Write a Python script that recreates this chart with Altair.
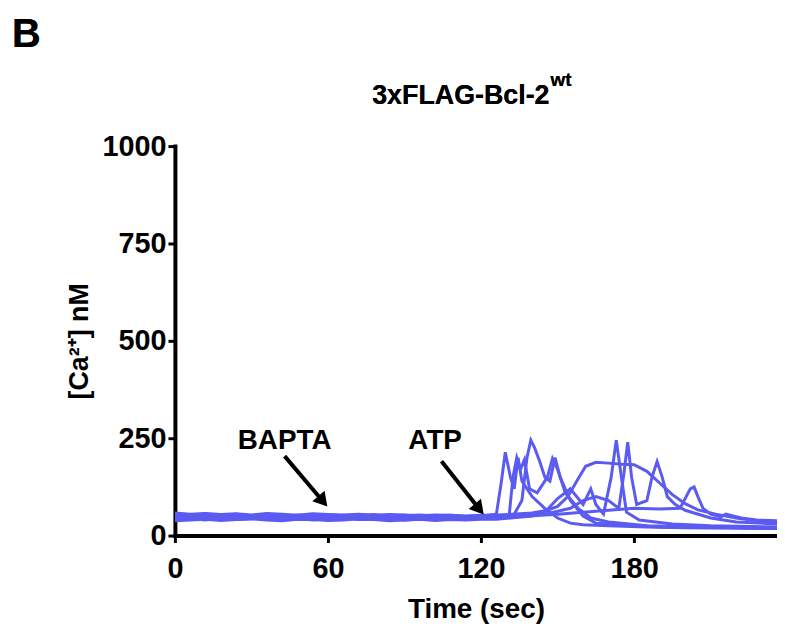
import altair as alt
import pandas as pd

# ---- data -------------------------------------------------------------
BASE_T = [0, 6, 12, 18, 24, 30, 36, 42, 48, 54, 60, 66, 72, 78, 84, 90, 96, 102, 108, 114, 120]

BASE_1 = [55, 52, 56, 50, 54, 51, 55, 53, 49, 52, 54, 50, 53, 51, 50, 52, 49, 51, 50, 48, 50]
BASE_2 = [48, 45, 50, 47, 44, 49, 46, 48, 45, 47, 50, 46, 44, 48, 47, 45, 46, 44, 47, 45, 46]
BASE_3 = [42, 44, 40, 45, 41, 43, 46, 42, 44, 40, 43, 45, 41, 42, 44, 40, 42, 45, 41, 43, 44]
BASE_4 = [50, 53, 49, 52, 55, 50, 52, 48, 53, 51, 49, 52, 50, 54, 49, 51, 53, 50, 52, 49, 51]
BASE_5 = [38, 40, 42, 39, 41, 43, 40, 38, 42, 41, 39, 40, 43, 41, 38, 40, 42, 39, 41, 40, 42]
BASE_6 = [58, 55, 57, 54, 56, 53, 57, 55, 52, 56, 54, 53, 55, 52, 54, 53, 51, 53, 52, 50, 52]
BASE_7 = [45, 47, 43, 46, 48, 44, 47, 45, 43, 46, 44, 47, 45, 43, 46, 44, 45, 43, 46, 44, 45]

RESP_T1 = [126, 128, 129.5, 131.5, 133, 134.5, 136, 140, 145, 150, 155, 160, 170, 185, 200, 236]
RESP_V1 = [55, 140, 214, 150, 120, 200, 140, 100, 70, 45, 32, 28, 25, 22, 20, 18]

RESP_T2 = [126, 133, 136, 138, 139.5, 141, 143, 145, 147, 149, 151, 155, 160, 165, 175, 190, 236]
RESP_V2 = [47, 55, 90, 200, 245, 225, 190, 150, 140, 200, 150, 90, 50, 32, 28, 22, 20]

RESP_T3 = [126, 131, 132.5, 134, 135.5, 137, 139, 142, 146, 148, 150, 153, 158, 163, 170, 185, 236]
RESP_V3 = [45, 50, 150, 200, 170, 195, 120, 110, 150, 198, 170, 110, 70, 45, 35, 25, 18]

RESP_T4 = [126, 140, 146, 150, 154, 158, 161, 165, 170, 175, 180, 185, 190, 195, 200, 205, 212, 220, 228, 236]
RESP_V4 = [52, 58, 65, 75, 100, 145, 178, 188, 186, 183, 182, 165, 135, 105, 82, 66, 55, 45, 38, 35]

RESP_T5 = [126, 140, 145, 150, 155, 160, 163, 165, 168, 171, 173, 175, 177, 182, 195, 210, 236]
RESP_V5 = [42, 50, 60, 95, 120, 80, 120, 80, 55, 150, 245, 150, 60, 40, 30, 25, 22]

RESP_T6 = [126, 145, 155, 160, 165, 170, 174, 176, 177.5, 179, 181, 185, 187, 189, 191, 193, 196, 200, 210, 220, 236]
RESP_V6 = [52, 55, 70, 90, 100, 90, 70, 160, 240, 150, 80, 90, 150, 190, 150, 100, 80, 65, 45, 35, 30]

RESP_T7 = [126, 150, 160, 170, 180, 190, 198, 200, 202, 203.5, 205, 207, 210, 214, 216, 218, 222, 228, 236]
RESP_V7 = [45, 55, 60, 65, 70, 68, 70, 95, 120, 125, 100, 70, 55, 48, 55, 52, 45, 40, 38]

X_TICKS = [0, 60, 120, 180]
Y_TICKS = [0, 250, 500, 750, 1000]

ARROW_LABELS = ["BAPTA", "ATP"]
ARROW_LABEL_T = [43, 102]
ARROW_LABEL_V = [242, 242]
ARROW_TAIL_T = [43, 104.5]
ARROW_TAIL_V = [204, 191]
ARROW_HEAD_T = [58, 119.3]
ARROW_HEAD_V = [88, 68]

# ---- build table ------------------------------------------------------
bases = [BASE_1, BASE_2, BASE_3, BASE_4, BASE_5, BASE_6, BASE_7]
resp_t = [RESP_T1, RESP_T2, RESP_T3, RESP_T4, RESP_T5, RESP_T6, RESP_T7]
resp_v = [RESP_V1, RESP_V2, RESP_V3, RESP_V4, RESP_V5, RESP_V6, RESP_V7]
rows = []
for i, (b, rt, rv) in enumerate(zip(bases, resp_t, resp_v)):
    for t, v in zip(BASE_T + rt, b + rv):
        rows.append({"cell": f"c{i+1}", "t": t, "v": v})
df = pd.DataFrame(rows)

arrows = pd.DataFrame({
    "label": ARROW_LABELS, "lt": ARROW_LABEL_T, "lv": ARROW_LABEL_V,
    "t1": ARROW_TAIL_T, "v1": ARROW_TAIL_V, "t2": ARROW_HEAD_T, "v2": ARROW_HEAD_V,
})

FONT = "Liberation Sans"
BLUE = "#5B5BF2"

xscale = alt.Scale(domain=[0, 236], nice=False, zero=False)
yscale = alt.Scale(domain=[0, 1000], nice=False)

lines = alt.Chart(df).mark_line(color=BLUE, strokeWidth=3, clip=True).encode(
    x=alt.X("t:Q", scale=xscale,
            axis=alt.Axis(title="Time (sec)", values=X_TICKS, labelPadding=12,
                          labelFlush=False, titlePadding=12, format="d")),
    y=alt.Y("v:Q", scale=yscale,
            axis=alt.Axis(title="[Ca²⁺] nM", values=Y_TICKS, labelPadding=2,
                          titlePadding=8, format="d")),
    detail="cell:N",
    order="t:Q",
)

shafts = alt.Chart(arrows).mark_rule(color="black", strokeWidth=4).encode(
    x="t1:Q", y="v1:Q", x2="t2:Q", y2="v2:Q"
)
heads = alt.Chart(arrows).mark_point(
    shape="triangle-up", filled=True, color="black", opacity=1, size=260, angle=140
).encode(x="t2:Q", y="v2:Q")
labels = alt.Chart(arrows).mark_text(
    font=FONT, fontSize=28, fontWeight="bold", color="black", baseline="middle"
).encode(x="lt:Q", y="lv:Q", text="label:N")

title_main = alt.Chart(arrows).mark_text(
    font=FONT, fontSize=27, fontWeight="bold", color="black", align="right",
    baseline="alphabetic"
).encode(x=alt.value(377), y=alt.value(-42), text=alt.value("3xFLAG-Bcl-2"))
title_sup = alt.Chart(arrows).mark_text(
    font=FONT, fontSize=19, fontWeight="bold", color="black", align="left",
    baseline="alphabetic"
).encode(x=alt.value(378), y=alt.value(-60), text=alt.value("wt"))
panel = alt.Chart(arrows).mark_text(
    font=FONT, fontSize=40, fontWeight="bold", color="black", align="left",
    baseline="alphabetic"
).encode(x=alt.value(-164), y=alt.value(-100), text=alt.value("B"))

chart = alt.layer(lines, shafts, heads, labels, title_main, title_sup, panel).properties(
    width=606, height=392,
    autosize=alt.AutoSizeParams(type="none"),
    padding={"left": 168, "top": 137, "right": 0, "bottom": 88},
).configure_view(stroke=None).configure_axis(
    grid=False, domainColor="black", domainWidth=4, tickColor="black", tickWidth=3,
    tickSize=7, labelFont=FONT, labelFontSize=29, labelFontWeight="bold",
    labelColor="black", titleFont=FONT, titleFontSize=28, titleFontWeight="bold",
    titleColor="black", domainCap="square",
).configure_axisY(titleFontSize=27)

chart.save("out.html", embed_options={"renderer": "svg", "actions": False})
